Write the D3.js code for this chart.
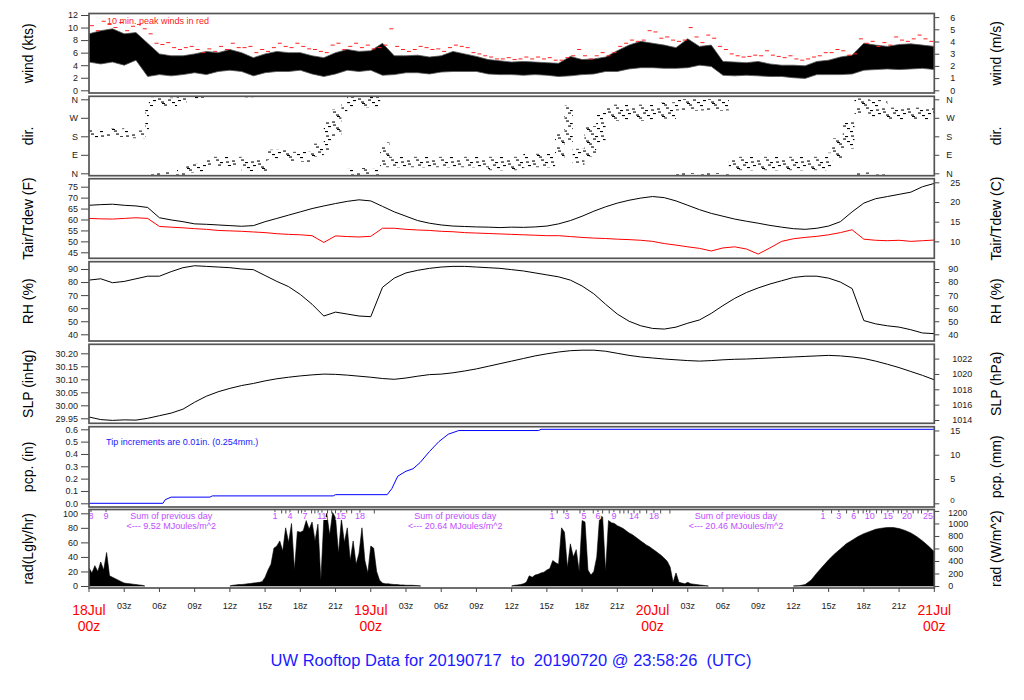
<!DOCTYPE html>
<html>
<head>
<meta charset="utf-8">
<script src="https://cdn.jsdelivr.net/npm/d3@7"></script>
<style>
body { margin: 0; background: #fff; }
svg text { font-family: "Liberation Sans", Arial, Helvetica, sans-serif; }
</style>
</head>
<body>
<svg id="chart" width="1024" height="700"></svg>
<script>
// ---- data (hours from 18Jul 00z) ----
var hours = d3.range(0, 73);

// wind speed envelope (kts), hourly
var windLo = [4.5,4.2,4.5,4.0,4.8,2.2,2.5,2.3,2.5,2.8,2.5,3.0,3.2,3.0,2.3,2.8,3.0,3.0,3.2,2.6,2.2,2.6,3.2,3.0,
              3.2,2.4,2.5,2.8,2.8,2.6,2.9,3.0,3.0,3.0,2.6,2.5,2.5,2.4,2.5,2.4,2.2,2.3,2.5,2.6,3.0,3.0,3.4,3.6,
              3.6,3.5,3.5,3.6,4.0,3.8,2.4,2.3,2.4,2.3,2.2,2.2,2.0,1.9,2.5,2.5,2.5,2.6,3.2,3.3,3.4,3.3,3.4,3.5,3.3];
var windHi = [9.0,9.5,9.8,9.0,9.2,7.5,5.8,5.5,5.5,5.8,6.2,6.0,6.5,6.0,5.2,5.8,6.2,6.0,6.0,5.5,5.2,6.0,6.5,6.2,
              6.3,7.5,5.5,5.5,5.6,5.3,5.5,6.2,5.8,5.4,4.9,4.7,4.5,4.6,4.5,4.4,4.3,5.4,4.9,5.0,5.3,6.3,7.2,7.8,
              7.5,7.2,6.8,8.2,7.0,7.2,4.6,4.5,4.4,4.6,4.2,4.0,4.0,3.9,4.6,4.8,5.3,5.6,7.5,7.2,7.0,7.3,7.4,7.2,7.0];
// peak winds (kts), every 30 min
var windPeak = [10.3,9.5,11.0,10.5,10.0,10.8,9.5,10.2,10.5,9.8,9.0,7.5,7.3,7.6,6.8,6.5,6.8,7.0,6.5,6.0,6.6,6.2,7.0,6.5,
                7.5,6.8,6.8,7.0,6.0,6.5,6.2,6.8,7.5,7.0,6.8,7.5,7.0,6.6,6.5,6.2,6.0,7.2,7.5,6.5,7.0,7.5,6.8,7.2,
                6.6,6.8,7.2,9.8,7.0,6.5,6.2,6.5,7.0,6.8,6.5,6.6,6.2,6.8,7.2,7.0,6.8,6.0,5.8,5.5,5.3,5.0,5.0,5.2,
                4.9,5.0,5.3,5.0,5.3,5.0,5.2,4.8,4.8,5.2,5.5,6.5,5.5,5.0,5.5,6.0,5.5,6.0,7.0,7.5,8.0,7.8,8.0,9.5,
                9.3,8.3,8.5,8.0,7.8,8.0,10.0,8.5,7.6,8.8,8.3,7.0,6.5,5.8,5.5,5.3,5.4,5.6,5.5,6.3,5.6,5.4,5.2,5.5,
                5.0,4.8,5.0,5.3,5.5,6.0,6.0,6.5,6.3,5.6,5.8,8.2,7.5,7.8,7.0,7.6,7.2,8.5,8.0,7.8,8.2,8.8,8.2,7.8];

// wind direction spread (deg), steps starting at dirT
var dirT  = [0,1.5,3,4.8,5.1,7.5,8.3,10,13,15.2,17,19,20,20.7,21.5,22,24.8,25.6,34,37,39.7,40.5,41.2,42.2,43.2,44,48,50,54.5,62.8,63.3,64.2,65.2,66.5,68];
var dirLo = [172,178,170,200,325,340,3,35,10,65,55,80,110,180,300,320,30,30,15,30,70,150,40,80,150,255,265,305,15,25,70,120,290,270,260];
var dirHi = [212,218,210,330,368,392,50,80,70,115,105,145,250,310,345,385,150,80,80,95,200,330,120,230,300,335,345,362,80,100,170,250,365,355,320];

// air temperature and dew point (F), hourly
var tair = [66.5,66.8,67.0,66.5,66.2,65.5,60.8,59.8,59.0,58.0,57.8,57.5,
            57.2,56.9,57.2,59.0,60.5,62.0,63.5,65.0,66.2,67.3,68.3,69.0,
            68.5,66.0,63.5,61.5,59.5,58.3,57.5,57.0,56.8,56.6,56.5,56.3,
            56.5,56.4,56.6,57.0,58.0,59.5,61.5,63.8,65.8,67.5,68.8,69.8,
            70.5,70.0,68.5,66.5,64.5,62.8,61.5,60.2,59.2,58.3,57.3,56.5,
            55.8,55.5,56.0,57.0,59.0,63.5,67.5,69.5,70.5,71.5,72.5,75.0,76.5];
var tdew = [60.5,60.3,60.2,60.5,60.8,60.5,56.8,56.5,56.2,55.8,55.5,55.0,
            54.8,54.6,54.3,54.0,53.5,53.2,53.0,52.6,49.5,52.5,52.2,52.0,
            52.3,56.0,56.0,55.5,55.2,55.0,54.6,54.4,54.0,53.8,53.6,53.4,
            53.2,53.0,52.8,52.6,52.6,52.2,51.8,51.5,51.3,51.0,50.8,50.5,
            50.0,49.0,48.3,47.5,46.8,45.6,47.0,47.5,46.5,44.2,47.0,50.0,
            51.2,51.8,52.3,53.0,54.0,55.3,51.0,50.5,50.3,50.5,50.0,50.3,50.6];

// relative humidity (%), hourly
var rh = [81.5,82.5,79.5,80.5,82.5,84.5,84.5,88.0,91.0,92.5,92.0,91.5,
          91.0,90.0,89.5,85.0,80.5,76.5,70.5,63.0,54.0,57.0,55.5,54.0,
          53.5,76.0,83.0,87.0,89.0,90.5,91.5,92.0,92.0,91.5,91.0,90.5,
          89.5,88.5,87.0,85.5,84.0,81.5,77.0,71.0,63.0,55.5,50.0,46.5,
          44.5,44.0,45.5,48.5,51.0,56.0,62.0,67.5,72.0,75.5,78.5,81.0,
          83.5,84.5,84.5,83.0,80.0,75.0,50.5,48.0,46.5,45.5,43.5,41.0,40.5];

// sea level pressure (inHg), hourly
var slp = [29.955,29.945,29.942,29.944,29.943,29.950,29.960,29.970,29.985,30.012,30.035,30.052,
           30.065,30.076,30.084,30.094,30.102,30.108,30.113,30.117,30.120,30.119,30.116,30.112,
           30.108,30.103,30.100,30.105,30.112,30.118,30.120,30.125,30.132,30.140,30.150,30.160,
           30.170,30.180,30.190,30.198,30.205,30.210,30.212,30.212,30.208,30.200,30.192,30.186,
           30.182,30.178,30.175,30.172,30.170,30.172,30.175,30.177,30.178,30.180,30.182,30.184,
           30.186,30.188,30.190,30.192,30.190,30.186,30.180,30.170,30.158,30.145,30.130,30.115,30.098];

// accumulated precipitation (in)
var pcpT = [0,6.3,6.5,7.0,10.3,10.5,20.8,21.0,25.4,25.8,26.3,27.0,27.6,28.2,29.0,29.8,30.6,31.5,38.3,38.5,72];
var pcpV = [0,0,0.03,0.05,0.05,0.06,0.06,0.07,0.07,0.12,0.22,0.26,0.28,0.33,0.42,0.50,0.56,0.59,0.59,0.60,0.60];

// solar radiation (Langley/hr)
var rad18Start = 0,  rad18Step = 0.25;
var rad18 = [25,18,28,20,33,22,46,14,12,10,8,6,4,3.5,3,2.5,2,1.5,1,0];
var rad19Start = 12, rad19Step = 0.25;
var rad19 = [0,1,1.5,2,2,2.5,3,3.5,4,4.5,5,6,
             12,22,30,52,55,62,48,80,60,86,22,75,
             74,76,90,78,88,62,85,8,92,100,70,101,
             94,45,92,60,80,35,62,30,45,80,35,18,
             55,52,20,8,4,3,3,2.5,2,2,1.5,1.5,
             1,1,1,0.8,0.5,0];
var rad20Start = 36, rad20Step = 0.25;
var rad20 = [0,1,1.5,2,3,5,14,12,15,16,18,19,
             22,24,35,32,30,80,74,25,58,40,50,20,
             90,88,22,15,20,40,97,95,20,90,87,86,
             83,81,79,76,73,71,68,65,62,59,56,54,
             51,48,45,42,38,34,26,5,18,5,4,3,
             5,3,2.5,2,1.5,1,0.5,0];
var rad21Start = 60, rad21Step = 0.5;
var rad21 = [0,0.5,2,8,18,27,36,44,51,58,63,68,72,75,78,79.5,80.5,80.5,79,76.5,73,68,62,55,47];

// daily sums and accumulated MJ/m^2 marks along the top of the rad panel
var sumHours = [7.0, 31.2, 55.1];
var sumText  = ["9.52", "20.64", "20.46"];
var cumHours  = [0.17,1.45,15.84,17.12,18.4,19.84,21.46,23.08,39.43,40.71,42.16,43.35,44.71,46.42,48.12,62.51,63.87,65.15,66.51,68.05,69.67,71.46];
var cumLabels = ["8","9","1","4","7","11","15","18","1","3","5","6","9","14","18","1","3","6","10","15","20","25"];
var cumTicks  = [16.41,16.77,17.83,18.11,18.96,19.24,19.52,20.32,20.67,21.0,21.95,22.37,24.3,
                 39.88,40.45,41.82,42.95,43.75,44.31,45.22,45.56,45.93,46.92,47.5,48.69,49.48,
                 63.25,64.53,65.52,65.94,66.23,67.08,67.51,68.5,68.93,69.21,70.2,70.62,70.91];

var dayLabels = ["18Jul", "19Jul", "20Jul", "21Jul"];
var dirLabels = ["N", "E", "S", "W", "N"];

// ---- layout ----
var svg = d3.select("#chart");
var x = d3.scaleLinear().domain([0, 72]).range([89, 934.3]);
var X0 = x(0), X1 = x(72);

var panels = {
    wind: {top: 13.5,  bot: 93,    dom: [0, 12],        rng: [90.3, 15]},
    dir:  {top: 96.3,  bot: 175.7, dom: [0, 360],       rng: [173.3, 99.3]},
    temp: {top: 178.7, bot: 258.3, dom: [45, 75],       rng: [252.3, 186.7]},
    rh:   {top: 261.7, bot: 341,   dom: [40, 90],       rng: [334.3, 269]},
    slp:  {top: 344.3, bot: 423.3, dom: [29.95, 30.20], rng: [418.3, 353.3]},
    pcp:  {top: 426.7, bot: 507,   dom: [0, 0.6],       rng: [503.3, 429.3]},
    rad:  {top: 509.5, bot: 588,   dom: [0, 100],       rng: [586, 513.3]}
};

var defs = svg.append("defs");
Object.keys(panels).forEach(function(k) {
    var p = panels[k];
    p.y = d3.scaleLinear().domain(p.dom).range(p.rng);
    defs.append("clipPath").attr("id", "clip-" + k)
        .append("rect").attr("x", X0).attr("y", p.top)
        .attr("width", X1 - X0).attr("height", p.bot - p.top);
    p.g = svg.append("g").attr("clip-path", "url(#clip-" + k + ")");
});

// dash pattern for the direction scatter (irregular tile so it reads as scatter)
var pat = defs.append("pattern").attr("id", "dash")
    .attr("patternUnits", "userSpaceOnUse").attr("width", 25).attr("height", 13);
[[0,1],[7,4.5],[14,0.5],[20,6],[3,9],[11,10.5],[16,3.5],[22,11],[8,7.5],[1,5.5],[18,8.5],[12,12]].forEach(function(d) {
    pat.append("rect").attr("x", d[0]).attr("y", d[1]).attr("width", 3).attr("height", 1.1).attr("fill", "#000");
});

// ---- wind ----
var pw = panels.wind;
pw.g.append("path")
    .datum(hours)
    .attr("d", d3.area()
        .x(function(h) { return x(h); })
        .y0(function(h) { return pw.y(windLo[h]); })
        .y1(function(h) { return pw.y(windHi[h]); }))
    .attr("fill", "#000").attr("stroke", "#555").attr("stroke-width", 0.8);

pw.g.selectAll("line.peak")
    .data(windPeak)
    .enter().append("line")
    .attr("class", "peak")
    .attr("x1", function(d, i) { return x(i * 0.5 + 0.25) - 2; })
    .attr("x2", function(d, i) { return x(i * 0.5 + 0.25) + 2; })
    .attr("y1", function(d) { return pw.y(d); })
    .attr("y2", function(d) { return pw.y(d); })
    .attr("stroke", "#ff2020").attr("stroke-width", 1);

svg.append("text").attr("x", 107).attr("y", 23.5)
    .attr("font-size", 9).attr("fill", "#ff2020")
    .text("10 min. peak winds in red");

// ---- direction ----
var pd = panels.dir;
var dirData = dirT.map(function(t, i) { return {t: t, lo: dirLo[i], hi: dirHi[i]}; });
dirData.push({t: 72, lo: dirLo[dirLo.length - 1], hi: dirHi[dirHi.length - 1]});
[-360, 0, 360].forEach(function(off) {
    pd.g.append("path")
        .datum(dirData)
        .attr("d", d3.area()
            .curve(d3.curveStepAfter)
            .x(function(d) { return x(d.t); })
            .y0(function(d) { return pd.y(d.lo + off); })
            .y1(function(d) { return pd.y(d.hi + off); }))
        .attr("fill", "url(#dash)");
});

// ---- simple hourly lines ----
function hourLine(p, arr, color) {
    p.g.append("path")
        .datum(hours)
        .attr("d", d3.line()
            .x(function(h) { return x(h); })
            .y(function(h) { return p.y(arr[h]); }))
        .attr("fill", "none").attr("stroke", color).attr("stroke-width", 1);
}
hourLine(panels.temp, tair, "#000");
hourLine(panels.temp, tdew, "#ff0000");
hourLine(panels.rh, rh, "#000");
hourLine(panels.slp, slp, "#000");

// ---- precipitation ----
var pp = panels.pcp;
pp.g.append("path")
    .datum(pcpT)
    .attr("d", d3.line()
        .x(function(t) { return x(t); })
        .y(function(t, i) { return pp.y(pcpV[i]); }))
    .attr("fill", "none").attr("stroke", "#0000ff").attr("stroke-width", 1);
svg.append("text").attr("x", 106).attr("y", 444.5)
    .attr("font-size", 9).attr("fill", "#2020ff")
    .text("Tip increments are 0.01in. (0.254mm.)");

// ---- radiation ----
var pr = panels.rad;
[[rad18, rad18Start, rad18Step], [rad19, rad19Start, rad19Step],
 [rad20, rad20Start, rad20Step], [rad21, rad21Start, rad21Step]].forEach(function(s) {
    pr.g.append("path")
        .datum(s[0])
        .attr("d", d3.area()
            .x(function(d, i) { return x(s[1] + i * s[2]); })
            .y0(pr.y(0))
            .y1(function(d) { return pr.y(d); }))
        .attr("fill", "#000").attr("stroke", "#000").attr("stroke-width", 0.6);
});

var purple = "#bf4dff";
svg.selectAll("line.cum")
    .data(cumTicks.concat(cumHours))
    .enter().append("line")
    .attr("x1", function(h) { return x(h); }).attr("x2", function(h) { return x(h); })
    .attr("y1", pr.top).attr("y2", pr.top + 4)
    .attr("stroke", "#222").attr("stroke-width", 0.8);
svg.selectAll("text.cum")
    .data(cumHours)
    .enter().append("text")
    .attr("x", function(h) { return x(h); }).attr("y", 518.5)
    .attr("text-anchor", "middle").attr("font-size", 9).attr("fill", purple)
    .attr("stroke", "#fff").attr("stroke-width", 2).attr("paint-order", "stroke")
    .text(function(h, i) { return cumLabels[i]; });
sumHours.forEach(function(h, i) {
    svg.append("text").attr("x", x(h)).attr("y", 518.5)
        .attr("text-anchor", "middle").attr("font-size", 9).attr("fill", purple)
        .text("Sum of previous day");
    svg.append("text").attr("x", x(h)).attr("y", 529)
        .attr("text-anchor", "middle").attr("font-size", 9).attr("fill", purple)
        .text("<--- " + sumText[i] + " MJoules/m^2");
});

// ---- axes ----
function styleAxis(g) {
    g.attr("font-family", null).attr("font-size", null);
    g.select(".domain").remove();
    g.selectAll("line").attr("stroke", "#444");
    g.selectAll("text").attr("font-size", 9).attr("fill", "#222");
}
function leftAxis(p, vals, fmt) {
    return svg.append("g").attr("transform", "translate(" + X0 + ",0)")
        .call(d3.axisLeft(p.y).tickValues(vals).tickSize(8).tickPadding(3).tickFormat(fmt))
        .call(styleAxis);
}
function rightAxis(p, f, vals, fmt, pad) {
    var yr = d3.scaleLinear().domain(p.dom.map(f)).range(p.rng);
    return svg.append("g").attr("transform", "translate(" + X1 + ",0)")
        .call(d3.axisRight(yr).tickValues(vals).tickSize(5).tickPadding(pad || 11).tickFormat(fmt))
        .call(styleAxis);
}
var dirFmt = function(d, i) { return dirLabels[i]; };

leftAxis(panels.wind, [0,2,4,6,8,10,12], d3.format("d"));
rightAxis(panels.wind, function(v) { return v * 0.514444; }, [0,1,2,3,4,5,6], d3.format("d"));
leftAxis(panels.dir, [0,90,180,270,360], dirFmt);
rightAxis(panels.dir, function(v) { return v; }, [0,90,180,270,360], dirFmt, 7);
leftAxis(panels.temp, [45,50,55,60,65,70,75], d3.format("d"));
rightAxis(panels.temp, function(v) { return (v - 32) / 1.8; }, [10,15,20,25], d3.format("d"));
leftAxis(panels.rh, [40,50,60,70,80,90], d3.format("d"));
rightAxis(panels.rh, function(v) { return v; }, [40,50,60,70,80,90], d3.format("d"), 9);
leftAxis(panels.slp, [29.95,30.00,30.05,30.10,30.15,30.20], d3.format(".2f"));
rightAxis(panels.slp, function(v) { return v * 33.8639; }, [1014,1016,1018,1020,1022], d3.format("d"), 13);
leftAxis(panels.pcp, [0,0.1,0.2,0.3,0.4,0.5,0.6], d3.format(".1f"));
var pcpRight = rightAxis(panels.pcp, function(v) { return v * 25.4; }, [0,5,10,15], d3.format("d"));
// the reference squeezes the "0" just above the rad panel's top label
pcpRight.selectAll("text").filter(function(d) { return d === 0; })
    .attr("dy", "-0.05em").attr("font-size", 8);
leftAxis(panels.rad, [0,20,40,60,80,100], d3.format("d"));
var radRight = rightAxis(panels.rad, function(v) { return v * 11.622; }, [0,200,400,600,800,1000,1200], d3.format("d"), 9);
radRight.selectAll("text").filter(function(d) { return d === 1200; })
    .attr("dy", "0.5em").attr("font-size", 8.5);

// panel titles
var titles = [["wind", "wind (kts)", "wind (m/s)"], ["dir", "dir.", "dir."],
              ["temp", "Tair/Tdew (F)", "Tair/Tdew (C)"], ["rh", "RH (%)", "RH (%)"],
              ["slp", "SLP (inHg)", "SLP (hPa)"], ["pcp", "pcp. (in)", "pcp. (mm)"],
              ["rad", "rad(Lgly/hr)", "rad (W/m^2)"]];
titles.forEach(function(t) {
    var p = panels[t[0]], yc = (p.top + p.bot) / 2;
    [[33, t[1]], [1001, t[2]]].forEach(function(s) {
        svg.append("text")
            .attr("transform", "translate(" + s[0] + "," + yc + ") rotate(-90)")
            .attr("text-anchor", "middle").attr("font-size", 14).attr("fill", "#000")
            .text(s[1]);
    });
});

// panel frames
Object.keys(panels).forEach(function(k) {
    var p = panels[k];
    svg.append("rect").attr("x", X0).attr("y", p.top)
        .attr("width", X1 - X0).attr("height", p.bot - p.top)
        .attr("fill", "none").attr("stroke", "#555").attr("stroke-width", 1.7);
});

// time axis
var xTicks = d3.range(0, 73, 3);
svg.selectAll("line.xt")
    .data(xTicks).enter().append("line")
    .attr("x1", function(h) { return x(h); }).attr("x2", function(h) { return x(h); })
    .attr("y1", pr.bot).attr("y2", pr.bot + 4)
    .attr("stroke", "#444");
svg.selectAll("text.xt")
    .data(xTicks.filter(function(h) { return h % 24 !== 0; })).enter().append("text")
    .attr("x", function(h) { return x(h); }).attr("y", 608.5)
    .attr("text-anchor", "middle").attr("font-size", 9).attr("fill", "#222")
    .text(function(h) { return d3.format("02d")(h % 24) + "z"; });
dayLabels.forEach(function(lbl, i) {
    svg.append("text").attr("x", x(i * 24)).attr("y", 614.5)
        .attr("text-anchor", "middle").attr("font-size", 14).attr("fill", "#ff0000").text(lbl);
    svg.append("text").attr("x", x(i * 24)).attr("y", 631)
        .attr("text-anchor", "middle").attr("font-size", 14).attr("fill", "#ff0000").text("00z");
});

svg.append("text").attr("x", 511).attr("y", 666)
    .attr("text-anchor", "middle").attr("font-size", 16.5).attr("fill", "#1a1aff")
    .style("white-space", "pre")
    .text("UW Rooftop Data for 20190717  to  20190720 @ 23:58:26  (UTC)");
</script>
</body>
</html>
